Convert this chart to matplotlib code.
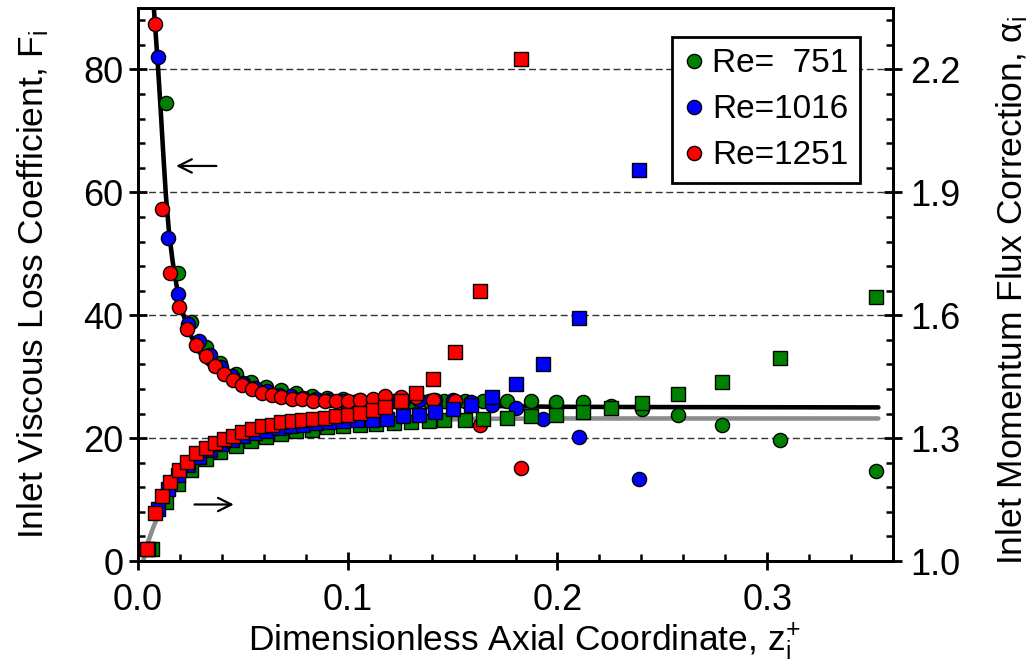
import numpy as np
import matplotlib
matplotlib.use('Agg')
import matplotlib.pyplot as plt
from matplotlib.lines import Line2D
from matplotlib.ticker import MultipleLocator, FixedLocator, FormatStrFormatter

plt.rcParams['font.family'] = ['Liberation Sans', 'DejaVu Sans']
plt.rcParams['mathtext.fontset'] = 'custom'
plt.rcParams['mathtext.rm'] = 'Liberation Sans'
plt.rcParams['mathtext.it'] = 'Liberation Sans'

nan = np.nan

# ---------------- data ----------------
series_labels = ['Re=  751', 'Re=1016', 'Re=1251']
series_colors = ['#008000', '#0000ff', '#ff0000']

# Re = 751
z_751 = [0.0069, 0.0132, 0.0192, 0.0254, 0.0326, 0.0392, 0.0465, 0.0538, 0.0609, 0.0680,
         0.0754, 0.0830, 0.0903, 0.0978, 0.1057, 0.1135, 0.1220, 0.1300, 0.1386, 0.1460,
         0.1557, 0.1644, 0.1760, 0.1875, 0.1994, 0.2120, 0.2256, 0.2403, 0.2576, 0.2784,
         0.3060, 0.3517]
F_751 = [nan, 74.5, 46.8, 38.9, 34.8, 32.3, 30.5, 29.2, 28.4, 27.8,
         27.3, 26.9, 26.6, 26.4, 26.2, 26.1, 26.0, 26.0, 26.0, 26.0,
         26.0, 26.0, 26.0, 26.0, 25.8, 25.8, 25.3, 24.7, 23.7, 22.2,
         19.7, 14.6]
alpha_751 = [1.030, 1.143, 1.188, 1.222, 1.249, 1.267, 1.282, 1.294, 1.303, 1.311,
             1.317, 1.321, 1.326, 1.329, 1.332, 1.335, 1.338, 1.339, 1.342, 1.344,
             1.345, 1.347, 1.350, 1.353, 1.357, 1.363, 1.374, 1.386, 1.407, 1.438,
             1.495, 1.644]

# Re = 1016
z_1016 = [0.0050, 0.0097, 0.0141, 0.0190, 0.0240, 0.0290, 0.0342, 0.0395, 0.0448, 0.0502,
          0.0557, 0.0613, 0.0670, 0.0728, 0.0788, 0.0850, 0.0913, 0.0978, 0.1045, 0.1115,
          0.1187, 0.1263, 0.1340, 0.1418, 0.1500, 0.1590, 0.1690, 0.1800, 0.1930, 0.2105,
          0.2387]
F_1016 = [nan, 82.0, 52.6, 43.4, 38.5, 35.8, 33.5, 31.6, 30.1, 29.0,
          28.2, 27.6, 27.1, 26.8, 26.5, 26.3, 26.2, 26.1, 26.1, 26.1,
          26.1, 26.1, 26.2, 26.2, 26.2, 25.8, 25.4, 24.9, 23.1, 20.2,
          13.3]
alpha_1016 = [1.030, 1.128, 1.177, 1.209, 1.234, 1.255, 1.272, 1.285, 1.296, 1.305,
              1.312, 1.318, 1.324, 1.329, 1.333, 1.336, 1.339, 1.342, 1.344, 1.345,
              1.347, 1.353, 1.357, 1.363, 1.371, 1.381, 1.401, 1.431, 1.482, 1.593,
              1.954]

# Re = 1251
z_1251 = [0.0041, 0.0081, 0.0114, 0.0152, 0.0195, 0.0235, 0.0278, 0.0322, 0.0365, 0.0408,
          0.0452, 0.0498, 0.0543, 0.0589, 0.0637, 0.0684, 0.0735, 0.0784, 0.0835, 0.0890,
          0.0946, 0.1002, 0.1057, 0.1120, 0.1180, 0.1252, 0.1327, 0.1406, 0.1510, 0.1630,
          0.1827]
F_1251 = [nan, 87.4, 57.3, 46.9, 41.4, 37.8, 35.1, 33.3, 31.7, 30.4,
          29.4, 28.7, 28.0, 27.4, 27.1, 26.7, 26.4, 26.3, 26.1, 26.1,
          26.1, 26.1, 26.2, 26.4, 26.8, 26.7, 26.7, 26.2, 26.0, 22.2,
          15.1]
alpha_1251 = [1.030, 1.117, 1.159, 1.194, 1.221, 1.242, 1.264, 1.276, 1.288, 1.297,
              1.306, 1.315, 1.323, 1.330, 1.333, 1.339, 1.341, 1.345, 1.347, 1.350,
              1.353, 1.357, 1.362, 1.368, 1.377, 1.390, 1.410, 1.444, 1.510, 1.659,
              2.226]

# theory curves
z_F_theory = [0.0076, 0.0086, 0.0095, 0.0108, 0.0121, 0.0133, 0.0148, 0.0165, 0.0185, 0.0210,
              0.0240, 0.0280, 0.0330, 0.0400, 0.0500, 0.0600, 0.0700, 0.0800, 0.1000, 0.1200,
              0.1500, 0.2000, 0.2500, 0.3530]
F_theory = [89.8, 85.0, 80.6, 73.5, 66.0, 59.5, 53.5, 48.8, 44.6, 40.8,
            37.6, 34.6, 32.2, 30.3, 28.6, 27.5, 26.8, 26.3, 25.8, 25.5,
            25.3, 25.1, 25.05, 25.0]
z_a_theory = [0.0025, 0.0050, 0.0075, 0.0100, 0.0125, 0.0150, 0.0200, 0.0250, 0.0300, 0.0400,
              0.0500, 0.0600, 0.0800, 0.1000, 0.1300, 0.1600, 0.2000, 0.3530]
a_theory = [1.000, 1.050, 1.085, 1.115, 1.142, 1.168, 1.208, 1.235, 1.256, 1.284,
            1.302, 1.315, 1.331, 1.339, 1.344, 1.347, 1.348, 1.348]

# ---------------- figure ----------------
fig = plt.figure(figsize=(10.36, 6.64), dpi=100)
ax = fig.add_axes([0.1332, 0.1551, 0.7288, 0.8328])
ax2 = ax.twinx()
ax.set_xlim(0, 0.36)
ax.set_ylim(0, 90)
ax2.set_ylim(1.0, 2.35)
ax2.patch.set_visible(False)

ax.yaxis.grid(True, which='major', linestyle=(0, (5, 2.6)), color='#333333', lw=1.0)
ax.set_axisbelow(True)

ax.plot(z_F_theory, F_theory, color='black', lw=3.3, zorder=2, solid_capstyle='round')
ax.plot(z_a_theory, a_theory, color='#8c8c8c', lw=3.3, zorder=2,
        transform=ax2.transData, solid_capstyle='round')

msz = 10.2
circles = [(z_751, F_751), (z_1016, F_1016), (z_1251, F_1251)]
squares = [(z_751, alpha_751), (z_1016, alpha_1016), (z_1251, alpha_1251)]
for (z, F), c in zip(circles, series_colors):
    ax.plot(z, F, ls='none', marker='o', ms=msz, mfc=c, mec='black', mew=1.0, zorder=3)
for (z, a), c in zip(squares, series_colors):
    ax.plot(z, a, ls='none', marker='s', ms=msz * 1.03, mfc=c, mec='black', mew=1.0,
            zorder=4, transform=ax2.transData)

# arrows
ax.annotate('', xy=(0.0168, 64.3), xytext=(0.0387, 64.3),
            arrowprops=dict(arrowstyle='->', lw=1.6, color='black', mutation_scale=24))
ax.annotate('', xy=(0.0470, 9.2), xytext=(0.0256, 9.2),
            arrowprops=dict(arrowstyle='->', lw=1.6, color='black', mutation_scale=24))

# axes styling
fs_tick = 26
fs_label = 25.5
fs_leg = 24
for a in (ax, ax2):
    for s in a.spines.values():
        s.set_linewidth(2.0)
ax.xaxis.set_major_locator(MultipleLocator(0.1))
ax.xaxis.set_minor_locator(MultipleLocator(0.02))
ax.yaxis.set_major_locator(MultipleLocator(20))
ax.yaxis.set_minor_locator(MultipleLocator(4))
ax2.yaxis.set_major_locator(FixedLocator(np.arange(1.0, 2.35, 0.3)))
ax2.yaxis.set_minor_locator(FixedLocator(np.arange(1.0, 2.35, 0.06)))
ax.xaxis.set_major_formatter(FormatStrFormatter('%.1f'))
ax.yaxis.set_major_formatter(FormatStrFormatter('%d'))
ax2.yaxis.set_major_formatter(FormatStrFormatter('%.1f'))

ax.tick_params(axis='both', which='major', direction='inout', length=13, width=2,
               labelsize=fs_tick, top=False, right=False)
ax.tick_params(axis='x', which='major', pad=9)
ax.tick_params(axis='y', which='major', pad=4)
ax.tick_params(axis='both', which='minor', direction='in', length=5, width=1.8,
               top=False, right=False)
ax2.tick_params(axis='y', which='major', direction='inout', length=13, width=2,
                labelsize=fs_tick, pad=6)
ax2.tick_params(axis='y', which='minor', direction='in', length=5, width=1.8)

ax.set_xlabel('Dimensionless Axial Coordinate, z$_\\mathregular{i}^\\mathregular{+}$',
              fontsize=fs_label, va='center')
ax.set_ylabel('Inlet Viscous Loss Coefficient, F$_\\mathregular{i}$', fontsize=fs_label,
              va='center')
ax2.set_ylabel('Inlet Momentum Flux Correction, \u03b1$_\\mathregular{i}$', fontsize=fs_label,
               va='center')
ax.xaxis.set_label_coords(0.511, -0.145)
ax.yaxis.set_label_coords(-0.139, 0.5)
ax2.yaxis.set_label_coords(1.158, 0.49)

handles = [Line2D([], [], ls='none', marker='o', ms=msz, mfc=c, mec='black', mew=1.0)
           for c in series_colors]
leg = ax.legend(handles, series_labels, loc='upper right', bbox_to_anchor=(0.956, 0.948),
                fontsize=fs_leg, frameon=True, fancybox=False, framealpha=1,
                edgecolor='black', handlelength=0.6, handletextpad=0.25,
                labelspacing=0.45, borderpad=0.35, borderaxespad=0)
leg.get_frame().set_linewidth(2.0)
leg.set_zorder(10)

fig.savefig('out.png', dpi=100)
